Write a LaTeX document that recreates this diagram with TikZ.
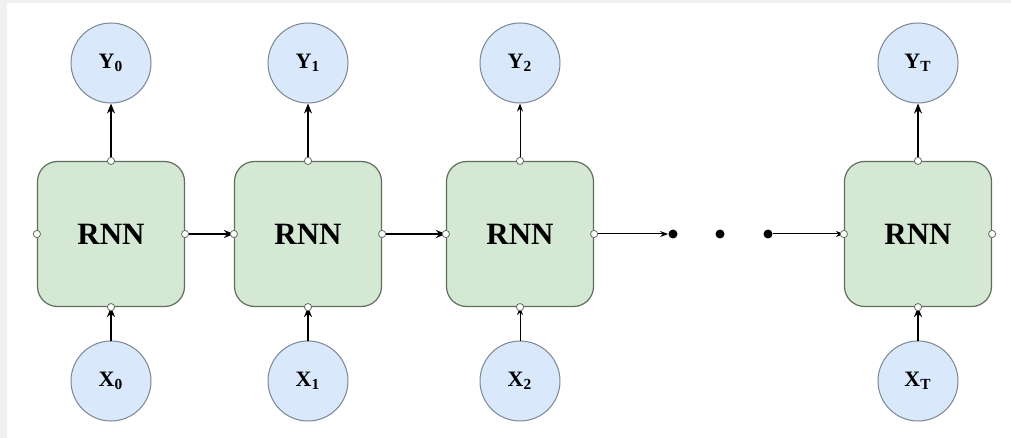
\documentclass[tikz,border=0pt]{standalone}
\usepackage{fontspec}
\setmainfont{Liberation Serif}
\usetikzlibrary{arrows.meta}

\definecolor{boxfill}{HTML}{D5E8D4}
\definecolor{boxline}{HTML}{5F6F5C}
\definecolor{circfill}{HTML}{DAE8FC}
\definecolor{circline}{HTML}{7C8794}
\definecolor{pagegray}{HTML}{F0F0F0}

\tikzset{
  rnnbox/.style={draw=boxline, fill=boxfill, line width=0.6pt, rounded corners=10pt,
    minimum width=73.5pt, minimum height=72.5pt, inner sep=0pt,
    font=\fontsize{15.5}{18}\selectfont\bfseries},
  io/.style={circle, draw=circline, fill=circfill, line width=0.5pt, minimum size=40pt,
    inner sep=0pt, font=\fontsize{11}{13}\selectfont\bfseries},
  port/.style={circle, draw=boxline, fill=white, line width=0.4pt, inner sep=0pt, minimum size=3.6pt},
  dot/.style={circle, fill=black, inner sep=0pt, minimum size=4.5pt},
  flow/.style={-{Stealth[length=5pt,width=4pt]}, line width=0.9pt},
  thinflow/.style={-{Stealth[length=4pt,width=3pt]}, line width=0.5pt},
}

\begin{document}
\begin{tikzpicture}[x=0.5pt,y=-0.5pt]
  %Frame
  \useasboundingbox (0,0) rectangle (1011,438);
  \fill[pagegray] (0,0) rectangle (1011,438);
  \fill[white] (7,3) rectangle (1011,438);

  %Cells
  \node[rnnbox] (Cell0) at (111,234) {RNN};
  \node[rnnbox] (Cell1) at (308,234) {RNN};
  \node[rnnbox] (Cell2) at (520,234) {RNN};
  \node[rnnbox] (CellT) at (918,234) {RNN};

  %Outputs
  \node[io] (Y0) at (111,63) {Y\textsubscript{0}};
  \node[io] (Y1) at (308,63) {Y\textsubscript{1}};
  \node[io] (Y2) at (520,63) {Y\textsubscript{2}};
  \node[io] (YT) at (918,63) {Y\textsubscript{T}};

  %Inputs
  \node[io] (X0) at (111,381) {X\textsubscript{0}};
  \node[io] (X1) at (308,381) {X\textsubscript{1}};
  \node[io] (X2) at (520,381) {X\textsubscript{2}};
  \node[io] (XT) at (918,381) {X\textsubscript{T}};

  %Dots
  \node[dot] (Dot1) at (673,234) {};
  \node[dot] (Dot2) at (720,234) {};
  \node[dot] (Dot3) at (768,234) {};

  %Connections
  \draw[flow] (Cell0.north) -- (Y0.south);
  \draw[flow] (Cell1.north) -- (Y1.south);
  \draw[thinflow] (Cell2.north) -- (Y2.south);
  \draw[flow] (CellT.north) -- (YT.south);

  \draw[flow] (X0.north) -- (Cell0.south);
  \draw[flow] (X1.north) -- (Cell1.south);
  \draw[thinflow] (X2.north) -- (Cell2.south);
  \draw[flow] (XT.north) -- (CellT.south);

  \draw[flow] (Cell0.east) -- (Cell1.west);
  \draw[flow] (Cell1.east) -- (Cell2.west);
  \draw[thinflow] (Cell2.east) -- (Dot1.west);
  \draw[thinflow] (Dot3.east) -- (CellT.west);

  %Ports
  \foreach \c in {Cell0,Cell1,Cell2,CellT}{
    \node[port] at (\c.north) {};
    \node[port] at (\c.south) {};
    \node[port] at (\c.east) {};
    \node[port] at (\c.west) {};
  }
\end{tikzpicture}
\end{document}
